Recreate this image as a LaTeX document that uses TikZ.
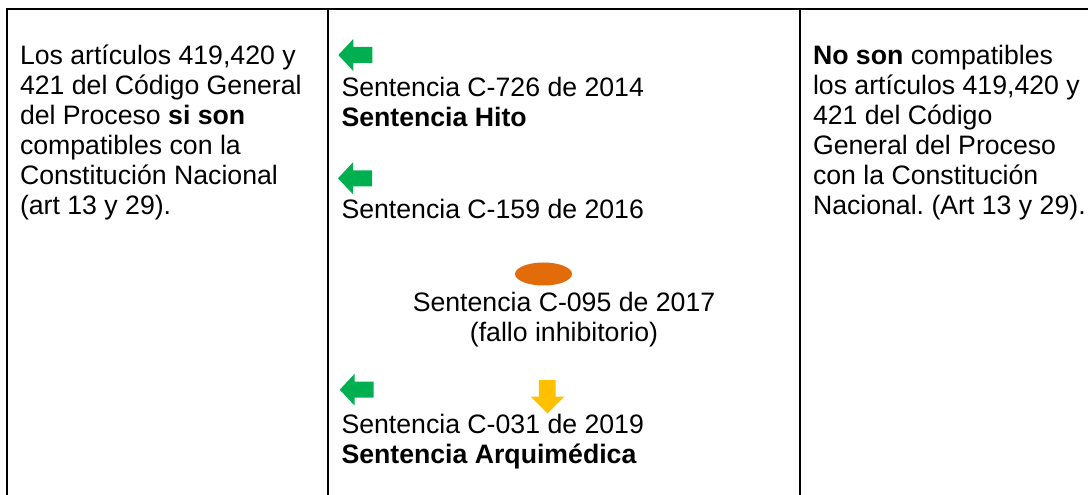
\documentclass[tikz,border=0pt]{standalone}
\usepackage{fontspec}
\setmainfont{Liberation Sans}
\usetikzlibrary{shapes.geometric}
\definecolor{verde}{RGB}{0,176,80}
\definecolor{amarillo}{RGB}{255,192,0}
\definecolor{naranja}{RGB}{227,108,10}
\frenchspacing

\begin{document}
\begin{tikzpicture}[x=0.75pt,y=-0.75pt]
\tikzset{ texto/.style={font=\fontsize{20pt}{22.5pt}\selectfont, align=left, inner sep=0pt, outer sep=0pt},
  linea/.style={line width=1.5pt},
  flechaverde/.pic={\fill [verde] (-17,0) -- (-2,-16) -- (-2,-8) -- (17,-8) -- (17,8) -- (-2,8) -- (-2,16) -- cycle;},
  flechaamarilla/.pic={\fill [amarillo] (0,16.6) -- (-16.8,0) -- (-8.6,0) -- (-8.6,-16.7) -- (8,-16.7) -- (8,0) -- (16.8,0) -- cycle;},
}
\useasboundingbox (0,0) rectangle (1088,495);
%\draw [lightgray, dashed](0,0) grid (1088,495);

\draw [linea] (7,495) -- (7,9) -- (1088,9);
\draw [linea] (328,9) -- (328,495);
\draw [linea] (800,9) -- (800,495);

\node [texto, anchor=north west] (izq) at (20,42.7) {\rule{0pt}{16pt}Los artículos 419,420 y\\421 del Código General\\del Proceso \textbf{si son}\\compatibles con la\\Constitución Nacional\\(art 13 y 29).};
\node [texto, anchor=north west] (der) at (813,42.7) {\rule{0pt}{16pt}\textbf{No son} compatibles\\los artículos 419,420 y\\421 del Código\\General del Proceso\\con la Constitución\\Nacional. (Art 13 y 29).};

\node [texto, anchor=north west] (s726) at (341.5,74.7) {\rule{0pt}{16pt}Sentencia C-726 de 2014\\\textbf{Sentencia Hito}};
\node [texto, anchor=north west] (s159) at (341.5,196.7) {\rule{0pt}{16pt}Sentencia C-159 de 2016};
\node [texto, anchor=north, align=center] (s095) at (564,289.7) {\rule{0pt}{16pt}Sentencia C-095 de 2017\\(fallo inhibitorio)};
\node [texto, anchor=north west] (s031) at (341.5,411.7) {\rule{0pt}{16pt}Sentencia C-031 de 2019\\\textbf{Sentencia Arquimédica}};

\pic (f726) at (355.3,55) {flechaverde};
\pic (f159) at (355,178.3) {flechaverde};
\pic (f031) at (356.7,389.7) {flechaverde};
\pic (f031b) at (547.5,396.7) {flechaamarilla};

\node [ellipse, fill=naranja, inner sep=0pt, minimum width=42.75pt, minimum height=17.25pt] (e095) at (543.5,274) {};

\end{tikzpicture}
\end{document}
